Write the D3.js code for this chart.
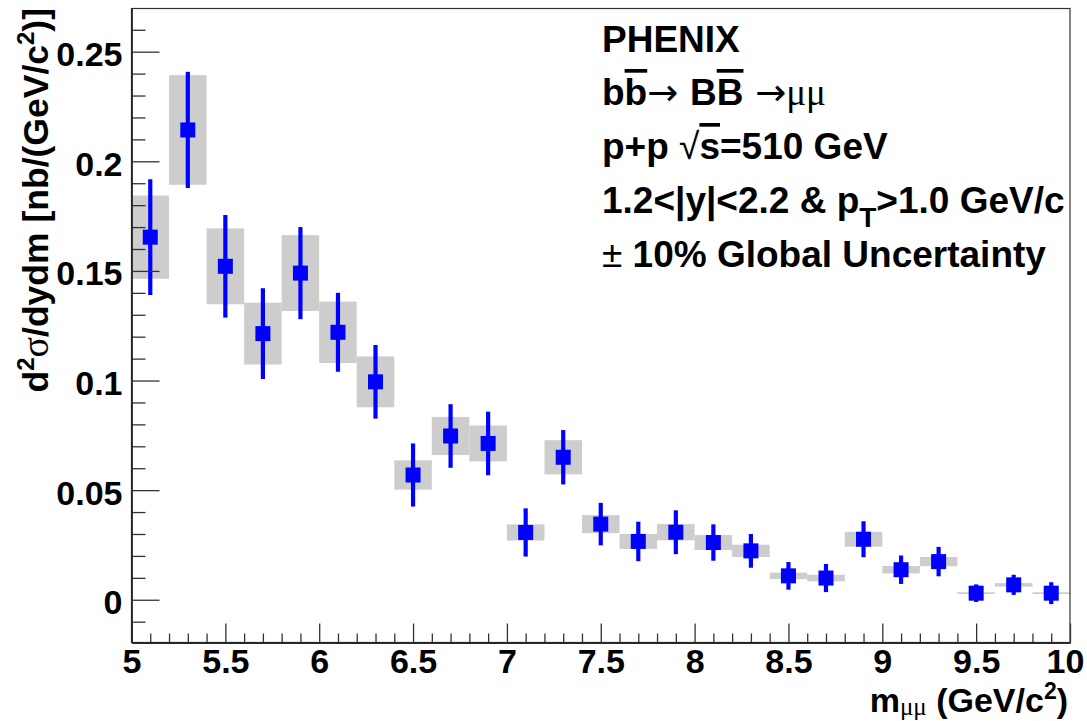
<!DOCTYPE html>
<html>
<head>
<meta charset="utf-8">
<script src="https://cdn.jsdelivr.net/npm/d3@7"></script>
<style>
  html, body { margin: 0; padding: 0; background: #fff; }
  svg { display: block; }
  text { font-family: "Liberation Sans", Arial, Helvetica, sans-serif; font-weight: bold; fill: #000; }
  .greek { font-family: "Liberation Serif", "DejaVu Serif", serif; font-weight: normal; }
  .thin { font-weight: normal; }
  .arrow { font-family: "DejaVu Sans", sans-serif; font-weight: normal; }
</style>
</head>
<body>
<svg id="chart" width="1087" height="721"></svg>
<script>
// Dimuon invariant mass bins (bin centres, GeV/c^2) and bin width
const massBins = [5.1, 5.3, 5.5, 5.7, 5.9, 6.1, 6.3, 6.5, 6.7, 6.9, 7.1, 7.3, 7.5,
                  7.7, 7.9, 8.1, 8.3, 8.5, 8.7, 8.9, 9.1, 9.3, 9.5, 9.7, 9.9];
const binWidth = 0.2;
// d2sigma/dydm in nb/(GeV/c^2)
const crossSection = [0.1654, 0.2143, 0.1521, 0.1214, 0.1490, 0.1220, 0.0994, 0.0569, 0.0747,
                      0.0713, 0.0307, 0.0650, 0.0345, 0.0266, 0.0308, 0.0261, 0.0223, 0.0109,
                      0.0099, 0.0276, 0.0137, 0.0174, 0.0030, 0.0068, 0.0030];
// statistical uncertainty (vertical bars)
const statError = [0.0264, 0.0265, 0.0234, 0.0207, 0.0210, 0.0180, 0.0168, 0.0144, 0.0145,
                   0.0145, 0.0110, 0.0124, 0.0097, 0.0090, 0.0100, 0.0083, 0.0077, 0.0063,
                   0.0064, 0.0082, 0.0065, 0.0067, 0.0040, 0.0046, 0.0050];
// systematic uncertainty (grey boxes)
const sysError = [0.0190, 0.0250, 0.0173, 0.0141, 0.0173, 0.0140, 0.0116, 0.0067, 0.0087,
                  0.0082, 0.0037, 0.0078, 0.0041, 0.0034, 0.0037, 0.0034, 0.0028, 0.0015,
                  0.0015, 0.0034, 0.0017, 0.0021, 0.0004, 0.0008, 0.0004];

// axis ticks
const xTicks = [5, 5.5, 6, 6.5, 7, 7.5, 8, 8.5, 9, 9.5, 10];
const xTickLabels = ["5", "5.5", "6", "6.5", "7", "7.5", "8", "8.5", "9", "9.5", "10"];
const yTicks = [0, 0.05, 0.1, 0.15, 0.2, 0.25];
const yTickLabels = ["0", "0.05", "0.1", "0.15", "0.2", "0.25"];

const points = massBins.map((m, i) => ({
  m, v: crossSection[i], stat: statError[i], sys: sysError[i]
}));

const svg = d3.select("#chart");
const frame = { left: 131.5, right: 1070, top: 8.5, bottom: 642.5 };

const x = d3.scaleLinear().domain([5, 10]).range([frame.left, frame.right]);
const y = d3.scaleLinear().domain([-0.0195, 0.2697]).range([frame.bottom, frame.top]);

svg.append("rect").attr("width", 1087).attr("height", 721).attr("fill", "#fff");

// systematic boxes
svg.append("g").selectAll("rect").data(points).join("rect")
  .attr("x", d => x(d.m - binWidth / 2))
  .attr("width", d => x(d.m + binWidth / 2) - x(d.m - binWidth / 2))
  .attr("y", d => y(d.v + d.sys))
  .attr("height", d => Math.max(1.5, y(d.v - d.sys) - y(d.v + d.sys)))
  .attr("fill", "#cdcdcd");

// statistical error bars
svg.append("g").selectAll("line").data(points).join("line")
  .attr("x1", d => x(d.m)).attr("x2", d => x(d.m))
  .attr("y1", d => y(d.v + d.stat)).attr("y2", d => y(d.v - d.stat))
  .attr("stroke", "#0000ff").attr("stroke-width", 4.2);

// markers
const ms = 15;
svg.append("g").selectAll("rect").data(points).join("rect")
  .attr("x", d => x(d.m) - ms / 2).attr("y", d => y(d.v) - ms / 2)
  .attr("width", ms).attr("height", ms)
  .attr("fill", "#0000ff");

// frame
svg.append("rect")
  .attr("x", frame.left).attr("y", frame.top)
  .attr("width", frame.right - frame.left).attr("height", frame.bottom - frame.top)
  .attr("fill", "none").attr("stroke", "#333").attr("stroke-width", 1.2);

const tickColor = "#333";

// x axis: major ticks with labels, minor ticks every 0.1
const xMinor = d3.range(51, 100).map(k => k / 10).filter(v => Math.abs(v * 2 - Math.round(v * 2)) > 1e-6);
svg.append("g").attr("transform", `translate(0,${frame.bottom})`)
  .call(d3.axisBottom(x).tickValues(xMinor).tickFormat("").tickSizeInner(-9).tickSizeOuter(0));
const gx = svg.append("g").attr("transform", `translate(0,${frame.bottom})`)
  .call(d3.axisBottom(x).tickValues(xTicks).tickFormat((d, i) => xTickLabels[i])
        .tickSizeInner(-19).tickSizeOuter(0));
gx.selectAll("text").attr("y", 30.5).attr("dy", null)
  .style("font-size", "34px").attr("fill", "#000");
// keep the last label inside the canvas
gx.selectAll("text").filter(d => d === 10).attr("dx", -5);

// y axis: major ticks with labels, minor ticks every 0.01
const yMinor = d3.range(-1, 27).map(k => k / 100).filter(v => Math.abs(v * 20 - Math.round(v * 20)) > 1e-6);
svg.append("g").attr("transform", `translate(${frame.left},0)`)
  .call(d3.axisLeft(y).tickValues(yMinor).tickFormat("").tickSizeInner(-14).tickSizeOuter(0));
const gy = svg.append("g").attr("transform", `translate(${frame.left},0)`)
  .call(d3.axisLeft(y).tickValues(yTicks).tickFormat((d, i) => yTickLabels[i])
        .tickSizeInner(-28).tickSizeOuter(0).tickPadding(9));
gy.selectAll("text").attr("dy", "14px")
  .style("font-size", "34px").attr("fill", "#000");

svg.selectAll(".domain").attr("stroke", "#222").attr("stroke-width", 1.3);
svg.selectAll(".tick line").attr("stroke", tickColor).attr("stroke-width", 1.3);
svg.selectAll(".tick text").attr("font-family", null);

// y axis title
const yt = svg.append("text")
  .attr("transform", "translate(48,8) rotate(-90)")
  .attr("text-anchor", "end")
  .style("font-size", "35.5px");
yt.append("tspan").text("d");
yt.append("tspan").attr("dy", -14).style("font-size", "24px").text("2");
yt.append("tspan").attr("dy", 14).attr("class", "greek").style("font-size", "38px").text("σ");
yt.append("tspan").text("/dydm [nb/(GeV/c");
yt.append("tspan").attr("dy", -14).style("font-size", "24px").text("2");
yt.append("tspan").attr("dy", 14).text(")]");

// x axis title
const xt = svg.append("text")
  .attr("x", 1068).attr("y", 712)
  .attr("text-anchor", "end")
  .style("font-size", "34px");
xt.append("tspan").text("m");
xt.append("tspan").attr("dy", 2.5).attr("class", "greek").style("font-size", "25px").text("μμ");
xt.append("tspan").attr("dy", -2.5).text(" (GeV/c");
xt.append("tspan").attr("dy", -13).style("font-size", "23px").text("2");
xt.append("tspan").attr("dy", 13).text(")");

// annotation block
const ax = 602;
const fs = "37px";
svg.append("text").attr("x", ax).attr("y", 52).style("font-size", fs).text("PHENIX");

const l2 = svg.append("text").attr("x", ax).attr("y", 105).style("font-size", fs);
l2.append("tspan").text("b");
l2.append("tspan").style("text-decoration", "overline").text("b");
l2.append("tspan").attr("class", "arrow").text("→ ");
l2.append("tspan").text("B");
l2.append("tspan").style("text-decoration", "overline").text("B");
l2.append("tspan").attr("class", "arrow").text(" →");
l2.append("tspan").attr("class", "greek").text("μμ");

const l3 = svg.append("text").attr("x", ax).attr("y", 159).style("font-size", fs);
l3.append("tspan").text("p+p ");
l3.append("tspan").attr("class", "thin").text("√");
l3.append("tspan").style("text-decoration", "overline").text("s");
l3.append("tspan").text("=510 GeV");

const l4 = svg.append("text").attr("x", ax).attr("y", 213).style("font-size", fs);
l4.append("tspan").text("1.2<|y|<2.2 & p");
l4.append("tspan").attr("dy", 14).style("font-size", "28px").text("T");
l4.append("tspan").attr("dy", -14).text(">1.0 GeV/c");

const l5 = svg.append("text").attr("x", ax).attr("y", 267).style("font-size", fs);
l5.append("tspan").attr("class", "thin").text("±");
l5.append("tspan").text(" 10% Global Uncertainty");
</script>
</body>
</html>
